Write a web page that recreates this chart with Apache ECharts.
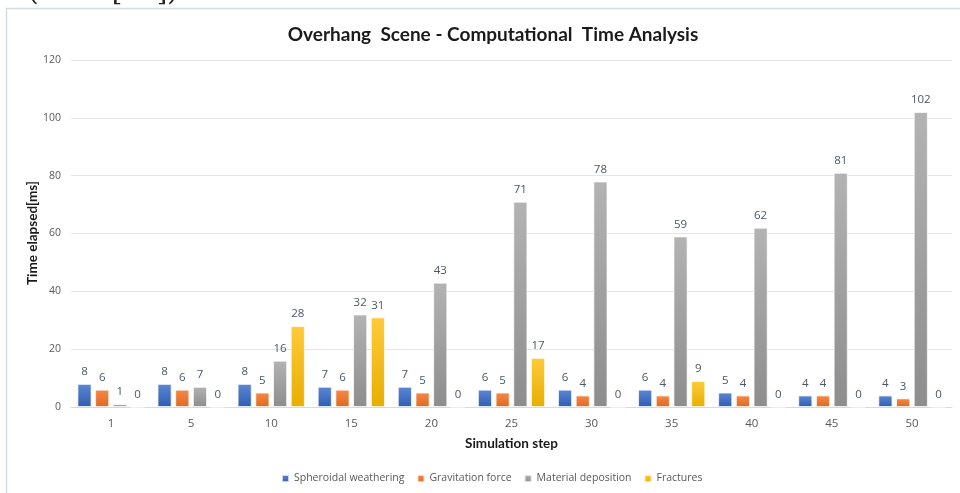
<!DOCTYPE html>
<html>
<head>
<meta charset="utf-8">
<script src="https://cdn.jsdelivr.net/npm/echarts@6/dist/echarts.min.js"></script>
<style>
  html, body { margin: 0; padding: 0; background: #ffffff; }
  #chart { width: 960px; height: 493px; }
</style>
</head>
<body>
<div id="chart"></div>
<script>
// Simulation steps on the x axis
const steps = ['1', '5', '10', '15', '20', '25', '30', '35', '40', '45', '50'];

// Time elapsed per stage, in ms
const spheroidalWeathering = [8, 8, 8, 7, 7, 6, 6, 6, 5, 4, 4];
const gravitationForce     = [6, 6, 5, 6, 5, 5, 4, 4, 4, 4, 3];
const materialDeposition   = [1, 7, 16, 32, 43, 71, 78, 59, 62, 81, 102];
const fractures            = [0, 0, 28, 31, 0, 17, 0, 9, 0, 0, 0];

const seriesNames = ['Spheroidal weathering', 'Gravitation force', 'Material deposition', 'Fractures'];

function grad(top, bottom) {
  return {
    type: 'linear', x: 0, y: 0, x2: 0, y2: 1,
    colorStops: [{ offset: 0, color: top }, { offset: 1, color: bottom }]
  };
}

const palette = [
  { top: '#5b87d3', bottom: '#2f5db3', legend: '#4472C4' },
  { top: '#f4884a', bottom: '#e0691e', legend: '#ED7D31' },
  { top: '#b3b3b3', bottom: '#8d8d8d', legend: '#A5A5A5' },
  { top: '#ffca3a', bottom: '#e8ae00', legend: '#FFC000' }
];

const values = [spheroidalWeathering, gravitationForce, materialDeposition, fractures];

const series = seriesNames.map((name, i) => ({
  name: name,
  type: 'bar',
  data: values[i],
  barGap: '25%',
  barCategoryGap: '16%',
  color: palette[i].legend,
  itemStyle: {
    color: grad(palette[i].top, palette[i].bottom),
    borderColor: 'rgba(255,255,255,0.7)',
    borderWidth: 1
  },
  label: {
    show: true,
    position: 'top',
    distance: 6,
    color: '#4b5668',
    fontFamily: 'Open Sans',
    fontSize: 11.5
  }
}));

const chart = echarts.init(document.getElementById('chart'), null, { renderer: 'canvas' });

chart.setOption({
  animation: false,
  backgroundColor: '#ffffff',
  title: {
    text: 'Overhang  Scene - Computational  Time Analysis',
    left: 488,
    textAlign: 'center',
    top: 20,
    textStyle: {
      fontFamily: 'Lato',
      fontWeight: 'bold',
      fontSize: 19,
      color: '#1a1a1a'
    }
  },
  graphic: [
    {
      type: 'rect',
      shape: { x: 6.5, y: 8.5, width: 1000, height: 1000 },
      style: { fill: 'none', stroke: '#d6dbe2', lineWidth: 1.5 },
      silent: true
    },
    {
      type: 'text',
      left: 28,
      top: -21,
      style: {
        text: '(from [15]).',
        font: '27px "DejaVu Serif"',
        fill: '#222222'
      },
      silent: true
    },
    {
      // y axis title, rotated to read bottom-to-top
      type: 'text',
      x: 33,
      y: 233,
      rotation: Math.PI / 2,
      style: {
        text: 'Time elapsed[ms]',
        font: 'bold 13.5px Lato',
        fill: '#1a1a1a',
        align: 'center',
        verticalAlign: 'middle'
      },
      silent: true
    }
  ],
  legend: {
    bottom: 4,
    left: 276,
    icon: 'rect',
    itemWidth: 7,
    itemHeight: 7,
    itemGap: 12,
    textStyle: { color: '#595959', fontSize: 10.5, fontFamily: 'Open Sans' },
    data: seriesNames
  },
  grid: { left: 71, right: 8, top: 60, bottom: 86 },
  xAxis: {
    type: 'category',
    data: steps,
    name: 'Simulation step',
    nameLocation: 'middle',
    nameGap: 30,
    nameTextStyle: { fontFamily: 'Lato', fontWeight: 'bold', fontSize: 13.5, color: '#1a1a1a' },
    axisLine: { lineStyle: { color: '#d9d9d9', width: 1 } },
    axisTick: { show: false },
    axisLabel: { color: '#595959', fontSize: 11.5, fontFamily: 'Open Sans', margin: 11 }
  },
  yAxis: {
    type: 'value',
    min: 0,
    max: 120,
    interval: 20,
    axisLine: { show: false },
    axisTick: { show: false },
    axisLabel: { color: '#595959', fontSize: 10.5, fontFamily: 'Open Sans', margin: 10 },
    splitLine: { lineStyle: { color: '#e3e3e8', width: 1 } }
  },
  series: series
});
</script>
</body>
</html>
